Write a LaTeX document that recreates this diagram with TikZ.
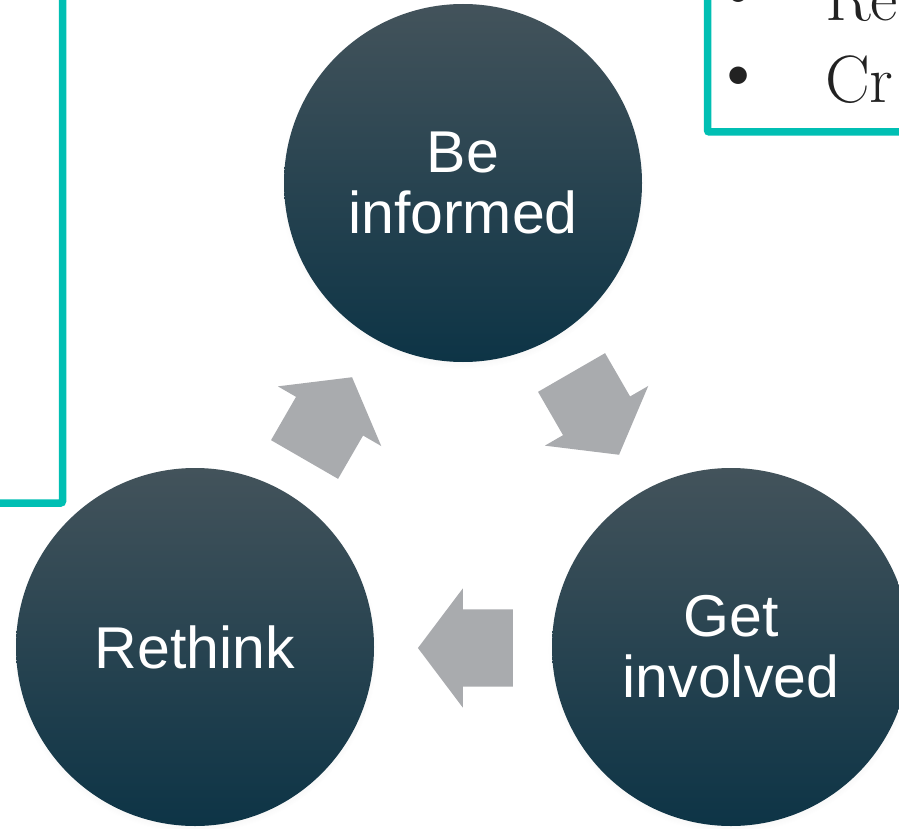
\documentclass[tikz,border=0pt]{standalone}
\usepackage{fontspec}
\newfontfamily\arialfont{Liberation Sans}
\usetikzlibrary{shapes.arrows,shadows,positioning}
\definecolor{frm}{HTML}{00BFB3}
\definecolor{ctop}{HTML}{43535B}
\definecolor{cmid}{HTML}{163D4F}
\definecolor{cbot}{HTML}{0D3446}
\definecolor{grr}{HTML}{A9ABAE}
\definecolor{pag}{HTML}{222222}

\begin{document}
\begin{tikzpicture}[x=1pt,y=-1pt,
	hub/.style={circle,minimum size=358pt,inner sep=0pt,top color=ctop,middle color=cmid,bottom color=cbot,
		circular drop shadow={shadow xshift=0pt,shadow yshift=-3pt,shadow scale=1.02,opacity=0.2},
		text=white,align=center,font=\arialfont\fontsize{59}{61}\selectfont},
	cyc/.style={single arrow,fill=grr,minimum height=95pt,minimum width=119pt,
		single arrow head extend=21pt,single arrow tip angle=106,inner xsep=0pt,inner ysep=38.5pt},
	txt/.style={text=pag,inner sep=0pt,font=\fontsize{67}{80}\selectfont},
	dot/.style={text=pag,inner sep=0pt,font=\fontsize{78}{80}\selectfont}]
	\useasboundingbox (0,0) rectangle (899,829);
	\clip (0,0) rectangle (899,829);
	\draw[frm,line width=7.5pt,rounded corners=2pt] (62.5,-20) -- (62.5,503) -- (-20,503);
	\draw[frm,line width=7.5pt,rounded corners=2pt] (707.5,-20) -- (707.5,132) -- (920,132);
	\node[dot] (b1) at (739,0) {\textbullet};
	\node[dot] (b2) at (739,82) {\textbullet};
	\node[txt,anchor=base west] (r1) at (825,21) {Re};
	\node[txt,anchor=base west] (r2) at (825,103) {Cr};

	\node[hub] (inform) at (463,183) {Be\\informed};
	\node[hub] (involve) at (731,647) {Get\\involved};
	\node[hub] (rethink) at (195,647) {Rethink};

	\node[cyc,rotate=-60] (a1) at (588,401) {};
	\node[cyc,rotate=180] (a2) at (480,648) {};
	\node[cyc,rotate=60] (a3) at (321,431) {};
\end{tikzpicture}
\end{document}
